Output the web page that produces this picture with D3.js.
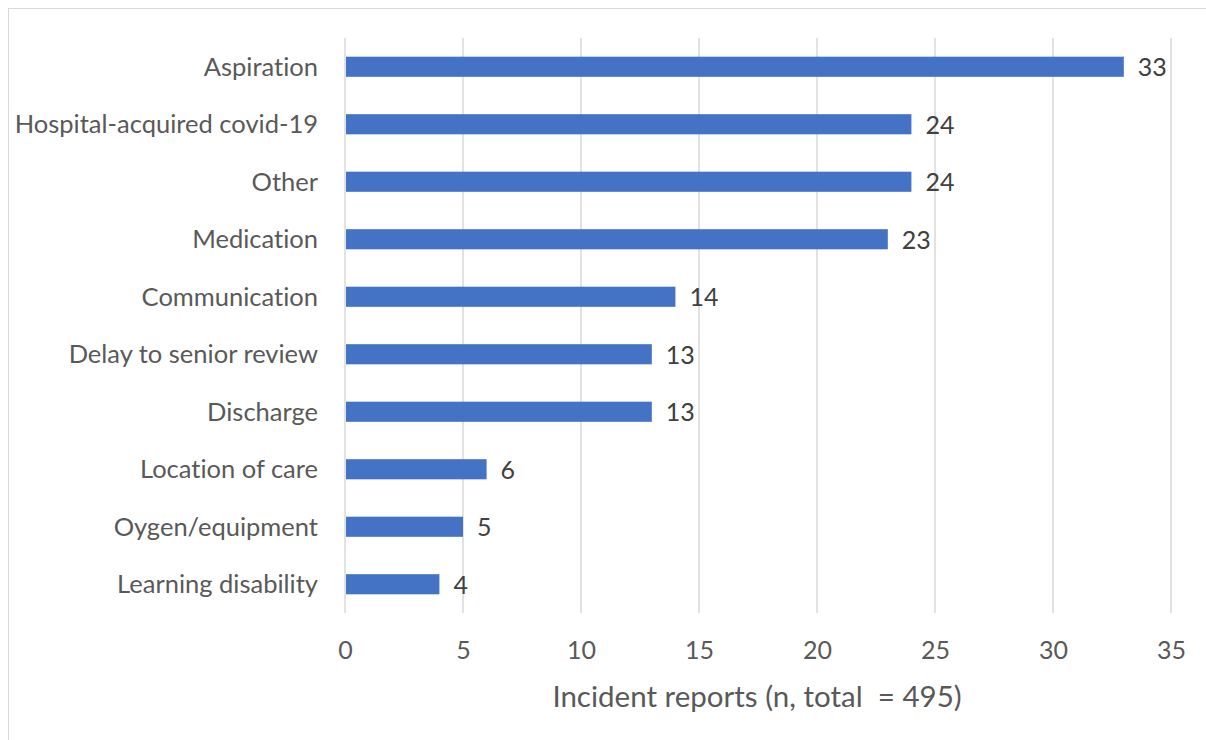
<!DOCTYPE html>
<html><head><meta charset="utf-8">
<script src="https://cdn.jsdelivr.net/npm/d3@7"></script>
<style>body{margin:0;background:#fff}svg{display:block}text{font-variant-ligatures:none}</style>
</head><body>
<svg id="c" width="1206" height="740"></svg>
<script>
const categories = ["Aspiration","Hospital-acquired covid-19","Other","Medication","Communication","Delay to senior review","Discharge","Location of care","Oygen/equipment","Learning disability"];
const values = [33,24,24,23,14,13,13,6,5,4];
const ticks = [0,5,10,15,20,25,30,35];
const axisTitle = "Incident reports (n, total  = 495)";

const svg = d3.select("#c");
const font = "Lato, 'Open Sans', sans-serif";
// frame
svg.append("rect").attr("x",8.5).attr("y",8.5).attr("width",1300).attr("height",800)
  .attr("fill","none").attr("stroke","#d9d9d9").attr("stroke-width",1);

const x = d3.scaleLinear().domain([0,35]).range([345,1171]);
const y = d3.scaleBand().domain(categories).range([38,613]).paddingInner(0.65).paddingOuter(0.325);

// gridlines
svg.append("g").selectAll("line").data(ticks).join("line")
  .attr("x1",d=>x(d)).attr("x2",d=>x(d)).attr("y1",38).attr("y2",613)
  .attr("stroke","#d9d9d9").attr("stroke-width",1.5);

// bars
svg.append("g").selectAll("rect").data(values).join("rect")
  .attr("x",x(0)+1).attr("y",(d,i)=>y(categories[i]))
  .attr("width",d=>x(d)-x(0)-1).attr("height",y.bandwidth())
  .attr("fill","#4472C4");

// value labels
svg.append("g").selectAll("text").data(values).join("text")
  .attr("x",d=>x(d)+14).attr("y",(d,i)=>y(categories[i])+y.bandwidth()/2)
  .attr("dy","0.38em").attr("font-family",font).attr("font-size",25).attr("fill","#404040")
  .text(d=>d);

// category labels
const yAxis = d3.axisLeft(y).tickSize(0).tickPadding(0);
const ya = svg.append("g").attr("transform","translate(318,0)").call(yAxis);
ya.select(".domain").remove();
ya.selectAll("text").attr("font-family",font).attr("font-size",25.5).attr("fill","#595959").attr("dy","0.36em");

// x axis tick labels
const xAxis = d3.axisBottom(x).tickValues(ticks).tickSize(0).tickPadding(0);
const xa = svg.append("g").attr("transform","translate(0,650)").call(xAxis);
xa.select(".domain").remove();
xa.selectAll("text").attr("font-family",font).attr("font-size",25).attr("fill","#595959").attr("dy","0.36em");

svg.append("text").attr("x",757).attr("y",696).attr("dy","0.36em").attr("text-anchor","middle")
  .attr("font-family",font).attr("font-size",29.5).attr("fill","#595959").style("white-space","pre")
  .attr("xml:space","preserve").text(axisTitle);
</script>
</body></html>
